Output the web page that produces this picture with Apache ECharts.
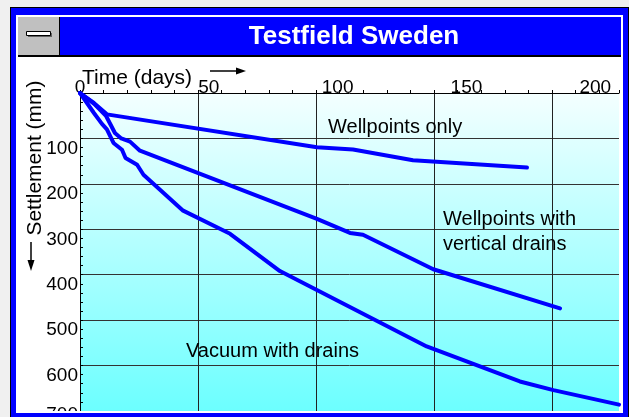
<!DOCTYPE html>
<html>
<head>
<meta charset="utf-8">
<script src="https://cdn.jsdelivr.net/npm/echarts@6/dist/echarts.min.js"></script>
<style>
html,body{margin:0;padding:0;background:#f0f0f0;}
#chart{width:629px;height:417px;}
</style>
</head>
<body>
<div id="chart"></div>
<script>
// ---- data ----
const chartTitle = 'Testfield Sweden';
const xAxisTitle = 'Time (days)';
const yAxisTitle = 'Settlement (mm)';
const seriesNames = ['Wellpoints only', 'Wellpoints with\nvertical drains', 'Vacuum with drains'];

const timeWellpoints   = [0, 5.9, 11.4, 100.4, 115.7, 141.1, 189.4];
const settleWellpoints = [0, 22, 47, 119.5, 124.5, 148, 164];

const timeDrains   = [0, 6, 11, 14.8, 17.5, 21.2, 25.4, 100.4, 114.4, 119.9, 149.7, 203.4];
const settleDrains = [0, 24, 50, 88, 100, 107, 127, 277, 308, 312, 388, 474];

const timeVacuum   = [0, 5.9, 9.3, 11.4, 14.2, 17.8, 19.3, 24.2, 26.9, 43.7, 63.6, 84.7, 146.9, 186.4, 200.6, 228.4];
const settleVacuum = [0, 44, 68, 80, 110, 125, 143, 158, 180, 259, 310, 392, 558, 635, 654, 686];

const xTickStep = 50, xMinorSplit = 5, xMax = 228.4;
const yTickStep = 100, yMinorSplit = 5, yMax = 700;

function pairs(xs, ys) { return xs.map((x, i) => [x, ys[i]]); }

const chart = echarts.init(document.getElementById('chart'), null, {renderer: 'canvas'});
const FONT = 'Liberation Sans, Arial, sans-serif';
const BLUE = '#0000ff';

const lineSeries = (name, data) => ({
  name: name, type: 'line', data: data, xAxisIndex: 0, yAxisIndex: 0,
  showSymbol: false, symbol: 'none', clip: true, z: 3,
  lineStyle: {color: BLUE, width: 4, cap: 'round', join: 'round'},
  emphasis: {disabled: true}
});

chart.setOption({
  backgroundColor: '#f0f0f0',
  animation: false,
  grid: {
    left: 80, top: 93, right: 10, bottom: 6, show: true, borderWidth: 0,
    outerBoundsMode: 'none', containLabel: false,
    backgroundColor: {type: 'linear', x: 0, y: 0, x2: 0, y2: 1,
      colorStops: [{offset: 0, color: '#f4ffff'}, {offset: 1, color: '#6cffff'}]}
  },
  xAxis: [{
    type: 'value', position: 'top', min: 0, max: xMax, interval: xTickStep,
    axisLine: {show: true, lineStyle: {color: '#000', width: 1}},
    axisTick: {show: true, length: 3, lineStyle: {color: '#000'}},
    minorTick: {show: true, splitNumber: xMinorSplit, length: 3, lineStyle: {color: '#000'}},
    axisLabel: {show: false},
    splitLine: {show: true, showMinLine: false, showMaxLine: false, lineStyle: {color: '#222', width: 1}}
  }, {
    // label-only axis (labels in the original sit on a slightly wider scale)
    type: 'value', position: 'top', min: 0, max: 209.2, interval: xTickStep,
    axisLine: {show: false}, axisTick: {show: false}, splitLine: {show: false},
    axisLabel: {show: true, showMaxLabel: false, margin: 5, verticalAlign: 'middle',
      fontFamily: FONT, fontSize: 19, color: '#000'}
  }],
  yAxis: {
    type: 'value', inverse: true, min: 0, max: yMax, interval: yTickStep,
    axisLine: {show: true, lineStyle: {color: '#000', width: 1}},
    axisTick: {show: true, inside: true, length: 3, lineStyle: {color: '#000'}},
    minorTick: {show: true, splitNumber: yMinorSplit, length: 3, lineStyle: {color: '#000'}},
    splitLine: {show: true, showMinLine: false, showMaxLine: false, lineStyle: {color: '#333', width: 1}},
    axisLabel: {
      show: true, showMinLabel: false, showMaxLabel: true, margin: 2,
      fontFamily: FONT, fontSize: 19, color: '#000', verticalAlign: 'middle',
      formatter: v => v === yMax ? '{b|' + v + '}' : '{a|' + v + '}',
      rich: {
        a: {fontFamily: FONT, fontSize: 19, lineHeight: 19, padding: [20, 0, 0, 0], color: '#000'},
        b: {fontFamily: FONT, fontSize: 19, lineHeight: 19, padding: [8, 0, 0, 0], color: '#000'}
      }
    }
  },
  series: [
    lineSeries(seriesNames[0], pairs(timeWellpoints, settleWellpoints)),
    lineSeries(seriesNames[1], pairs(timeDrains, settleDrains)),
    lineSeries(seriesNames[2], pairs(timeVacuum, settleVacuum))
  ],
  graphic: [
    // window frame (behind)
    {type: 'rect', z: -10, silent: true, shape: {x: 10, y: 7, width: 619, height: 410}, style: {fill: '#000'}},
    {type: 'rect', z: -9, silent: true, shape: {x: 11, y: 8, width: 617, height: 409}, style: {fill: BLUE}},
    {type: 'rect', z: -8, silent: true, shape: {x: 16, y: 15, width: 607, height: 397}, style: {fill: '#fff'}},
    {type: 'rect', z: -7, silent: true, shape: {x: 18, y: 17, width: 603, height: 38}, style: {fill: BLUE}},
    {type: 'rect', z: -7, silent: true, shape: {x: 18, y: 55, width: 603, height: 2}, style: {fill: '#000'}},
    {type: 'rect', z: -6, silent: true, shape: {x: 18, y: 17, width: 41, height: 38}, style: {fill: '#c0c0c0'}},
    {type: 'rect', z: -5, silent: true, shape: {x: 59, y: 17, width: 1, height: 38}, style: {fill: '#000'}},
    {type: 'rect', z: -5, silent: true, shape: {x: 28, y: 33, width: 24, height: 4}, style: {fill: '#606060'}},
    {type: 'rect', z: -4, silent: true, shape: {x: 26.5, y: 31.5, width: 24, height: 4}, style: {fill: '#fff', stroke: '#000', lineWidth: 1}},
    {type: 'text', z: -4, silent: true, x: 354, y: 37,
      style: {text: chartTitle, fill: '#fff', font: 'bold 26px ' + FONT, align: 'center', verticalAlign: 'middle'}},
    // bottom edge overlay (clips overflow)
    {type: 'rect', z: 50, silent: true, shape: {x: 16, y: 411, width: 607, height: 2}, style: {fill: '#fff'}},
    {type: 'rect', z: 50, silent: true, shape: {x: 11, y: 413, width: 617, height: 4}, style: {fill: BLUE}},
    // axis titles and arrows
    {type: 'text', z: 20, silent: true, x: 82, y: 78,
      style: {text: xAxisTitle, fill: '#000', font: '21px ' + FONT, align: 'left', verticalAlign: 'middle'}},
    {type: 'line', z: 20, silent: true, shape: {x1: 210, y1: 71, x2: 238, y2: 71}, style: {stroke: '#000', lineWidth: 1.5}},
    {type: 'polygon', z: 20, silent: true, shape: {points: [[246, 71], [236, 67.5], [236, 74.5]]}, style: {fill: '#000'}},
    {type: 'text', z: 20, silent: true, x: 35, y: 158, rotation: Math.PI / 2,
      style: {text: yAxisTitle, fill: '#000', font: '21px ' + FONT, align: 'center', verticalAlign: 'middle'}},
    {type: 'line', z: 20, silent: true, shape: {x1: 31, y1: 242, x2: 31, y2: 262}, style: {stroke: '#000', lineWidth: 1.5}},
    {type: 'polygon', z: 20, silent: true, shape: {points: [[31, 271], [27.5, 260], [34.5, 260]]}, style: {fill: '#000'}},
    // curve labels
    {type: 'text', z: 20, silent: true, x: 328, y: 127,
      style: {text: seriesNames[0], fill: '#000', font: '20px ' + FONT, align: 'left', verticalAlign: 'middle'}},
    {type: 'text', z: 20, silent: true, x: 443, y: 232,
      style: {text: seriesNames[1], fill: '#000', font: '20px ' + FONT, lineHeight: 25, align: 'left', verticalAlign: 'middle'}},
    {type: 'text', z: 20, silent: true, x: 186, y: 351,
      style: {text: seriesNames[2], fill: '#000', font: '20px ' + FONT, align: 'left', verticalAlign: 'middle'}}
  ]
});
</script>
</body>
</html>
